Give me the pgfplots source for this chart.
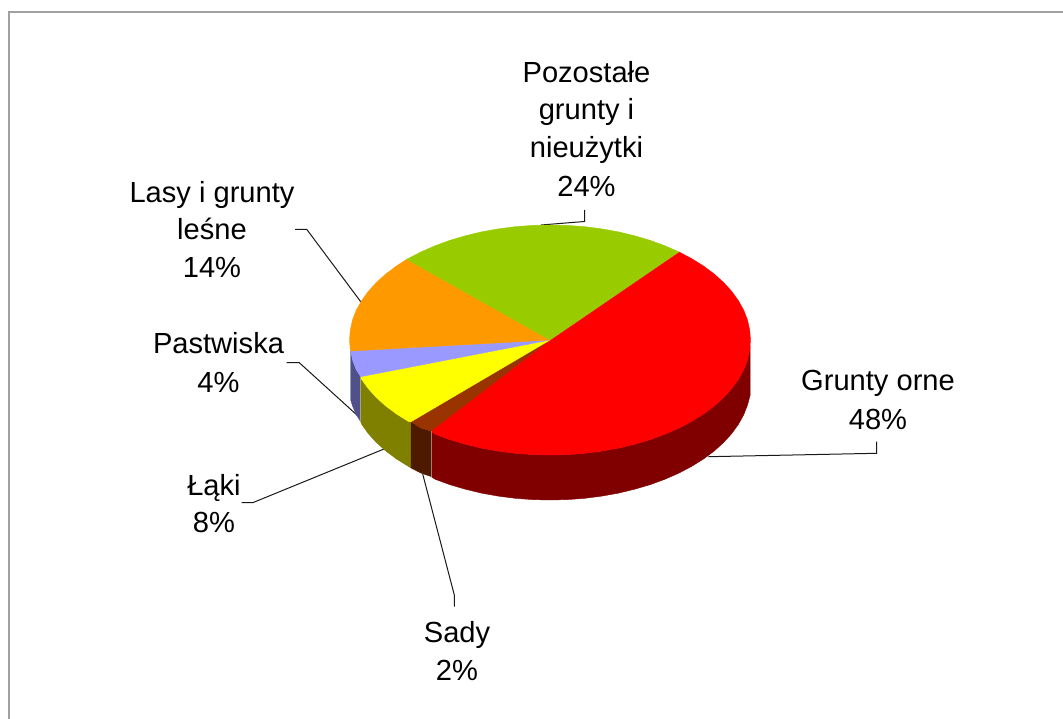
\documentclass[border=0pt]{standalone}
\usepackage{pgfplots}
\pgfplotsset{compat=1.18}
\usepackage{fontspec}
\setmainfont{Liberation Sans}
\definecolor{cRed}{HTML}{FF0000}
\definecolor{cRedS}{HTML}{800000}
\definecolor{cGreen}{HTML}{99CC00}
\definecolor{cOrange}{HTML}{FF9900}
\definecolor{cLav}{HTML}{9999FF}
\definecolor{cLavS}{HTML}{50508A}
\definecolor{cYel}{HTML}{FFFF00}
\definecolor{cYelS}{HTML}{808000}
\definecolor{cBrown}{HTML}{993300}
\definecolor{cBrownS}{HTML}{4D1A00}
\definecolor{cFrame}{HTML}{A0A0A0}
\definecolor{cEdgeA}{HTML}{A08078}
\definecolor{cEdgeB}{HTML}{A0A090}
\tikzset{
  slice/.style={fill=#1, draw=#1, line width=0.4pt, line join=round},
  leader/.style={draw=black!90, line width=1pt},
  lab/.style={font=\fontsize{29.1}{30}\selectfont, anchor=base, text=black, inner sep=0pt},
}
\begin{document}
\begin{tikzpicture}
\begin{axis}[
  scale only axis, width=1063pt, height=719pt,
  xmin=0, xmax=1063, ymin=0, ymax=719, y dir=reverse,
  hide axis, clip=true,
]
% full extent of the page
\addplot[draw=none] coordinates {(0,0) (1063,719)};
% frame
\addplot[draw=cFrame, line width=1.3pt] coordinates {(9,719) (9,12) (1063,12)};
% leader lines behind the pie
\addplot[leader] coordinates {(295,229.3) (306.7,229.3) (360.7,301.7)};
\addplot[leader] coordinates {(286.7,362.7) (299.3,362.7) (358,416)};
\addplot[leader] coordinates {(241.7,502.7) (252.7,502.7) (384,449)};
\addplot[leader] coordinates {(454.3,606.7) (454.3,595) (422.7,474)};
\addplot[leader] coordinates {(876.7,441.7) (876.7,453.3) (708.3,456.7)};
\addplot[leader] coordinates {(541,225) (584.5,221.5) (584.5,210)};
% side walls
\addplot[slice=cLavS] coordinates {(350.7,351) (352.5,360) (356.3,369.8) (360.7,376.7) (360.7,421.7) (356.3,414.8) (352.5,406) (350.7,400)} --cycle;
\addplot[slice=cYelS] coordinates {(360.7,376.7) (361.6,379.3) (368.3,388.6) (376.4,397.5) (385.8,406) (396.4,413.9) (408.2,421.3) (411,421.7) (411,468) (408.2,466.3) (396.4,458.9) (385.8,451) (376.4,442.5) (368.3,433.6) (361.6,424.3) (360.7,421.7)} --cycle;
\addplot[slice=cBrownS] coordinates {(411,421.7) (421.1,428.1) (431,431) (431,476.5) (421.1,473.1) (411,468)} --cycle;
\addplot[slice=cRedS] coordinates {(431,431) (435,434.2) (449.7,439.6) (465.3,444.2) (481.4,448.1) (498.1,451.1) (515.2,453.3) (532.5,454.6) (550,455) (567.5,454.6) (584.8,453.3) (601.9,451.1) (618.6,448.1) (634.7,444.2) (650.3,439.6) (665,434.2) (678.9,428.1) (691.8,421.3) (703.6,413.9) (714.2,406) (723.6,397.5) (731.7,388.6) (738.4,379.3) (743.7,369.8) (747.5,360) (750.2,346) (750.2,395) (747.5,405) (743.7,414.8) (738.4,424.3) (731.7,433.6) (723.6,442.5) (714.2,451) (703.6,458.9) (691.8,466.3) (678.9,473.1) (665,479.2) (650.3,484.6) (634.7,489.2) (618.6,493.1) (601.9,496.1) (584.8,498.3) (567.5,499.6) (550,500) (532.5,499.6) (515.2,498.3) (498.1,496.1) (481.4,493.1) (465.3,489.2) (449.7,484.6) (435,479.2) (431,476.5)} --cycle;
% top faces
\addplot[slice=cRed] coordinates {(550,340) (678.9,251.9) (691.8,258.7) (703.6,266.1) (714.2,274) (723.6,282.5) (731.7,291.4) (738.4,300.7) (743.7,310.2) (747.5,320) (749.7,330) (750.5,340) (749.7,350) (747.5,360) (743.7,369.8) (738.4,379.3) (731.7,388.6) (723.6,397.5) (714.2,406) (703.6,413.9) (691.8,421.3) (678.9,428.1) (665,434.2) (650.3,439.6) (634.7,444.2) (618.6,448.1) (601.9,451.1) (584.8,453.3) (567.5,454.6) (550,455) (532.5,454.6) (515.2,453.3) (498.1,451.1) (481.4,448.1) (465.3,444.2) (449.7,439.6) (435,434.2) (431,431)} --cycle;
\addplot[slice=cBrown] coordinates {(550,340) (431,431) (421.1,428.1) (411,421.7)} --cycle;
\addplot[slice=cYel] coordinates {(550,340) (411,421.7) (408.2,421.3) (396.4,413.9) (385.8,406) (376.4,397.5) (368.3,388.6) (361.6,379.3) (360.7,376.7)} --cycle;
\addplot[slice=cLav] coordinates {(550,340) (360.7,376.7) (356.3,369.8) (352.5,360) (350.7,351)} --cycle;
\addplot[slice=cOrange] coordinates {(550,340) (350.7,351) (350.3,350) (349.5,340) (350.3,330) (352.5,320) (356.3,310.2) (361.6,300.7) (368.3,291.4) (376.4,282.5) (385.8,274) (396.4,266.1) (406.7,259.3)} --cycle;
\addplot[slice=cGreen] coordinates {(550,340) (406.7,259.3) (421.1,251.9) (435,245.8) (449.7,240.4) (465.3,235.8) (481.4,231.9) (498.1,228.9) (515.2,226.7) (532.5,225.4) (550,225) (567.5,225.4) (584.8,226.7) (601.9,228.9) (618.6,231.9) (634.7,235.8) (650.3,240.4) (665,245.8) (678.9,251.9)} --cycle;
% light edges
\addplot[draw=cEdgeA, line width=0.6pt] coordinates {(431,431) (431,476.5)};
\addplot[draw=cEdgeB, line width=0.6pt] coordinates {(360.7,376.7) (360.7,421.7)};
% labels
\node[lab] at (axis cs:586.5,82.5) {Pozostałe};
\node[lab] at (axis cs:586.5,120) {grunty i};
\node[lab] at (axis cs:586.5,158) {nieużytki};
\node[lab] at (axis cs:586.5,197) {24\%};
\node[lab] at (axis cs:212,202.5) {Lasy i grunty};
\node[lab] at (axis cs:212,240) {leśne};
\node[lab] at (axis cs:212,278) {14\%};
\node[lab] at (axis cs:218.5,353.5) {Pastwiska};
\node[lab] at (axis cs:218.5,392) {4\%};
\node[lab] at (axis cs:214,495) {Łąki};
\node[lab] at (axis cs:214,532) {8\%};
\node[lab] at (axis cs:457,642) {Sady};
\node[lab] at (axis cs:457,680) {2\%};
\node[lab] at (axis cs:878,390) {Grunty orne};
\node[lab] at (axis cs:878,429) {48\%};
\end{axis}
\end{tikzpicture}
\end{document}
